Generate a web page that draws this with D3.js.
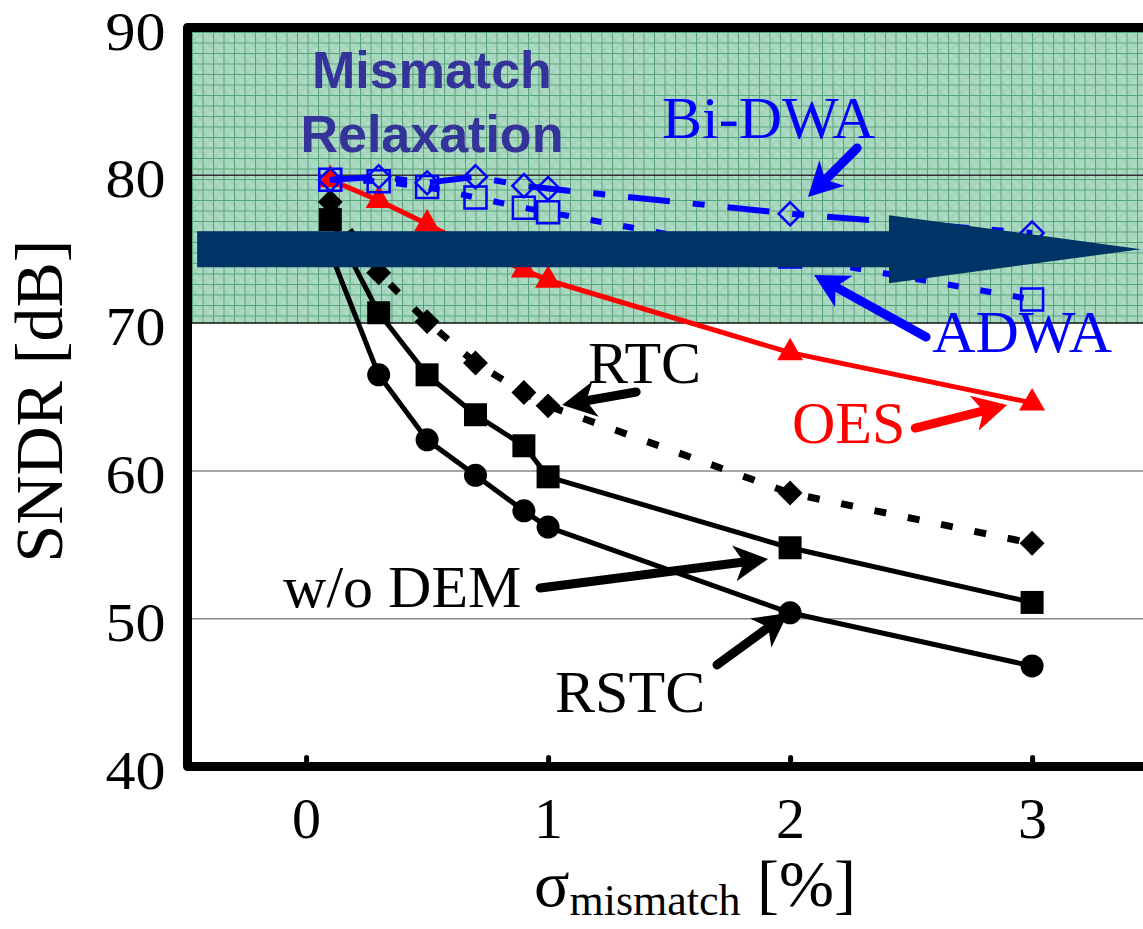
<!DOCTYPE html>
<html>
<head>
<meta charset="utf-8">
<script src="https://cdn.jsdelivr.net/npm/d3@7"></script>
<style>
  body { margin: 0; background: #ffffff; }
  svg { display: block; }
</style>
</head>
<body>
<svg id="chart" width="1143" height="929"></svg>
<script>
// SNDR versus element mismatch for several DEM techniques
const sigma   = [0.1, 0.3, 0.5, 0.7, 0.9, 1.0, 2, 3];
const rstc    = [74.8, 66.5, 62.1, 59.7, 57.3, 56.2, 50.4, 46.8];
const woDem   = [77.0, 70.7, 66.5, 63.8, 61.7, 59.6, 54.8, 51.1];
const rtc     = [78.2, 73.4, 70.1, 67.3, 65.3, 64.4, 58.5, 55.1];
const oes     = [79.7, 78.3, 76.7, 75.0, 73.6, 72.9, 68.0, 64.6];
const adwa    = [79.7, 79.6, 79.2, 78.5, 77.8, 77.5, 74.5, 71.6];
const biDwa   = [79.7, 79.9, 79.5, 79.9, 79.3, 79.1, 77.4, 76.1];

const xTickValues = [0, 1, 2, 3];
const yTickValues = [40, 50, 60, 70, 80, 90];
const gridValues  = [50, 60, 80];
const relaxBand   = [70, 90];
const relaxLevel  = 75;          // level of the wide "relaxation" arrow
const relaxSpan   = [-0.45, 3.45];

// label positions (data units) and pointer arrows
const labels = [
  { text: "Bi-DWA",  x: 1.471, y: 82.53, color: "#0000ff" },
  { text: "ADWA",    x: 2.587, y: 68.05, color: "#0000ff" },
  { text: "RTC",     x: 1.165, y: 65.95, color: "#000000" },
  { text: "OES",     x: 2.008, y: 61.89, color: "#ff0000" },
  { text: "w/o DEM", x: -0.095, y: 50.79, color: "#000000" },
  { text: "RSTC",    x: 1.029, y: 43.70, color: "#000000" }
];
const pointers = [
  { from: [2.277, 81.85], to: [2.074, 78.53], color: "#0000ff" },
  { from: [2.562, 69.06], to: [2.099, 73.25], color: "#0000ff" },
  { from: [1.364, 65.34], to: [1.058, 64.46], color: "#000000" },
  { from: [2.517, 62.90], to: [2.897, 64.46], color: "#ff0000" },
  { from: [0.967, 52.08], to: [1.909, 54.04], color: "#000000" },
  { from: [1.698, 46.87], to: [1.992, 50.39], color: "#000000" }
];

const serif = "'Liberation Serif', 'Times New Roman', Times, serif";
const svg = d3.select("#chart");

const x = d3.scaleLinear().domain([-0.49, 3.5]).range([187.5, 1153.1]);
const y = d3.scaleLinear().domain([40, 90]).range([766.5, 27.5]);

// hatched green fill for the relaxation band
const defs = svg.append("defs");
const pat = defs.append("pattern")
  .attr("id", "bandGrid")
  .attr("patternUnits", "userSpaceOnUse")
  .attr("x", 192).attr("y", 32)
  .attr("width", 10.5).attr("height", 10.5);
pat.append("rect").attr("width", 10.5).attr("height", 10.5).attr("fill", "#a4d4bc");
pat.append("rect").attr("width", 5.25).attr("height", 5.25).attr("fill", "#acdac3");
pat.append("rect").attr("x", 5.25).attr("y", 5.25).attr("width", 5.25).attr("height", 5.25).attr("fill", "#acdac3");
pat.append("path").attr("d", "M0,0.5H10.5M0.5,0V10.5")
  .attr("stroke", "#56a47b").attr("stroke-width", 1);

svg.append("rect")
  .attr("x", x.range()[0]).attr("y", y(relaxBand[1]))
  .attr("width", x.range()[1] - x.range()[0])
  .attr("height", y(relaxBand[0]) - y(relaxBand[1]))
  .attr("fill", "url(#bandGrid)");

// horizontal grid lines
svg.append("g").selectAll("line").data(gridValues).join("line")
  .attr("x1", x.range()[0]).attr("x2", x.range()[1])
  .attr("y1", d => y(d)).attr("y2", d => y(d))
  .attr("stroke", d => d === 80 ? "#303030" : "#8a8a8a")
  .attr("stroke-width", 1.5);
svg.append("line")
  .attr("x1", x.range()[0]).attr("x2", x.range()[1])
  .attr("y1", y(relaxBand[0])).attr("y2", y(relaxBand[0]))
  .attr("stroke", "#111").attr("stroke-width", 1.5);

// axes
const xAxis = d3.axisBottom(x).tickValues(xTickValues).tickFormat(d3.format("d"))
  .tickSizeInner(-9).tickSizeOuter(0).tickPadding(30);
const gx = svg.append("g").attr("transform", `translate(0,${y(40)})`).call(xAxis);
gx.select(".domain").remove();
gx.selectAll(".tick line").attr("stroke", "#000").attr("stroke-width", 5).attr("stroke-linecap", "round");
gx.selectAll(".tick text").attr("font-family", serif).attr("font-size", 58).attr("fill", "#000");

const yAxis = d3.axisLeft(y).tickValues(yTickValues).tickSize(0).tickPadding(22);
const gy = svg.append("g").attr("transform", `translate(${x.range()[0]},0)`).call(yAxis);
gy.select(".domain").remove();
gy.selectAll(".tick text").attr("font-family", serif).attr("font-size", 54).attr("fill", "#000")
  .attr("dy", "0.4em").attr("textLength", 60).attr("lengthAdjust", "spacingAndGlyphs");

// plot frame
svg.append("path")
  .attr("d", `M${x.range()[1] + 10},${y(90)}H${x.range()[0]}V${y(40)}H${x.range()[1] + 10}`)
  .attr("fill", "none").attr("stroke", "#000").attr("stroke-width", 9)
  .attr("stroke-linejoin", "round");

// axis titles
svg.append("text")
  .attr("transform", "translate(62,401) rotate(-90)")
  .attr("text-anchor", "middle")
  .attr("font-family", serif).attr("font-size", 68)
  .text("SNDR [dB]");

const xt = svg.append("text")
  .attr("x", 695).attr("y", 906)
  .attr("text-anchor", "middle")
  .attr("font-family", serif);
xt.append("tspan").attr("font-size", 66).text("σ");
xt.append("tspan").attr("font-size", 44).attr("dy", 9).text("mismatch");
xt.append("tspan").attr("font-size", 66).attr("dy", -9).text("\u00a0[%]");

// series
const line = d3.line().x(d => x(d[0])).y(d => y(d[1]));
const pts = vals => sigma.map((s, i) => [s, vals[i]]);

const series = [
  { vals: rstc,  color: "#000", width: 5, dash: null, sym: d3.symbolCircle, size: 415, fill: "#000", rot: 0 },
  { vals: woDem, color: "#000", width: 5, dash: null, sym: d3.symbolSquare, size: 529, fill: "#000", rot: 0 },
  { vals: rtc,   color: "#000", width: 7, dash: "12,22", sym: d3.symbolSquare, size: 310, fill: "#000", rot: 45 },
  { vals: oes,   color: "#ff0000", width: 5, dash: null, sym: d3.symbolTriangle, size: 293, fill: "#ff0000", rot: 0 },
  { vals: adwa,  color: "#0000ff", width: 6, dash: "11,22", sym: d3.symbolSquare, size: 484, fill: "none", rot: 0 },
  { vals: biDwa, color: "#0000ff", width: 6, dash: "42,23,12,23", sym: d3.symbolSquare, size: 265, fill: "none", rot: 45 }
];

series.forEach(s => {
  const g = svg.append("g");
  g.append("path").datum(pts(s.vals))
    .attr("d", line)
    .attr("fill", "none")
    .attr("stroke", s.color)
    .attr("stroke-width", s.width)
    .attr("stroke-dasharray", s.dash)
    .attr("stroke-linejoin", "round");
  g.selectAll("path.mk").data(pts(s.vals)).join("path")
    .attr("class", "mk")
    .attr("transform", d => `translate(${x(d[0])},${y(d[1])}) rotate(${s.rot})`)
    .attr("d", d3.symbol().type(s.sym).size(s.size))
    .attr("fill", s.fill)
    .attr("stroke", s.fill === "none" ? s.color : "none")
    .attr("stroke-width", 2.5);
});

// wide relaxation arrow
{
  const x0 = x(relaxSpan[0]), x1 = x(relaxSpan[1]), yc = y(relaxLevel);
  const headBase = x1 - 252, shaft = 18, head = 34;
  svg.append("path")
    .attr("d", `M${x0},${yc - shaft}H${headBase}V${yc - head}L${x1},${yc}L${headBase},${yc + head}V${yc + shaft}H${x0}Z`)
    .attr("fill", "#003366");
}

// labels
svg.append("g").selectAll("text").data(labels).join("text")
  .attr("x", d => x(d.x)).attr("y", d => y(d.y))
  .attr("font-family", serif).attr("font-size", 60)
  .attr("fill", d => d.color)
  .text(d => d.text);

// pointer arrows
pointers.forEach(p => {
  const a = [x(p.from[0]), y(p.from[1])], b = [x(p.to[0]), y(p.to[1])];
  const dx = b[0] - a[0], dy = b[1] - a[1], L = Math.hypot(dx, dy);
  const ux = dx / L, uy = dy / L, nx = -uy, ny = ux;
  const hl = 34, hw = 18;
  const base = [b[0] - ux * hl, b[1] - uy * hl];
  const notch = [b[0] - ux * hl * 0.72, b[1] - uy * hl * 0.72];
  svg.append("line")
    .attr("x1", a[0]).attr("y1", a[1]).attr("x2", notch[0]).attr("y2", notch[1])
    .attr("stroke", p.color).attr("stroke-width", 9).attr("stroke-linecap", "round");
  svg.append("path")
    .attr("d", `M${b[0]},${b[1]}L${base[0] + nx * hw},${base[1] + ny * hw}L${notch[0]},${notch[1]}L${base[0] - nx * hw},${base[1] - ny * hw}Z`)
    .attr("fill", p.color);
});

// band title
const title = svg.append("text")
  .attr("text-anchor", "middle")
  .attr("font-family", "'Liberation Sans', Arial, sans-serif")
  .attr("font-weight", "bold").attr("font-size", 52)
  .attr("fill", "#333399");
title.append("tspan").attr("x", x(0.52)).attr("y", y(85.91)).text("Mismatch");
title.append("tspan").attr("x", x(0.52)).attr("y", y(81.58)).text("Relaxation");
</script>
</body>
</html>
